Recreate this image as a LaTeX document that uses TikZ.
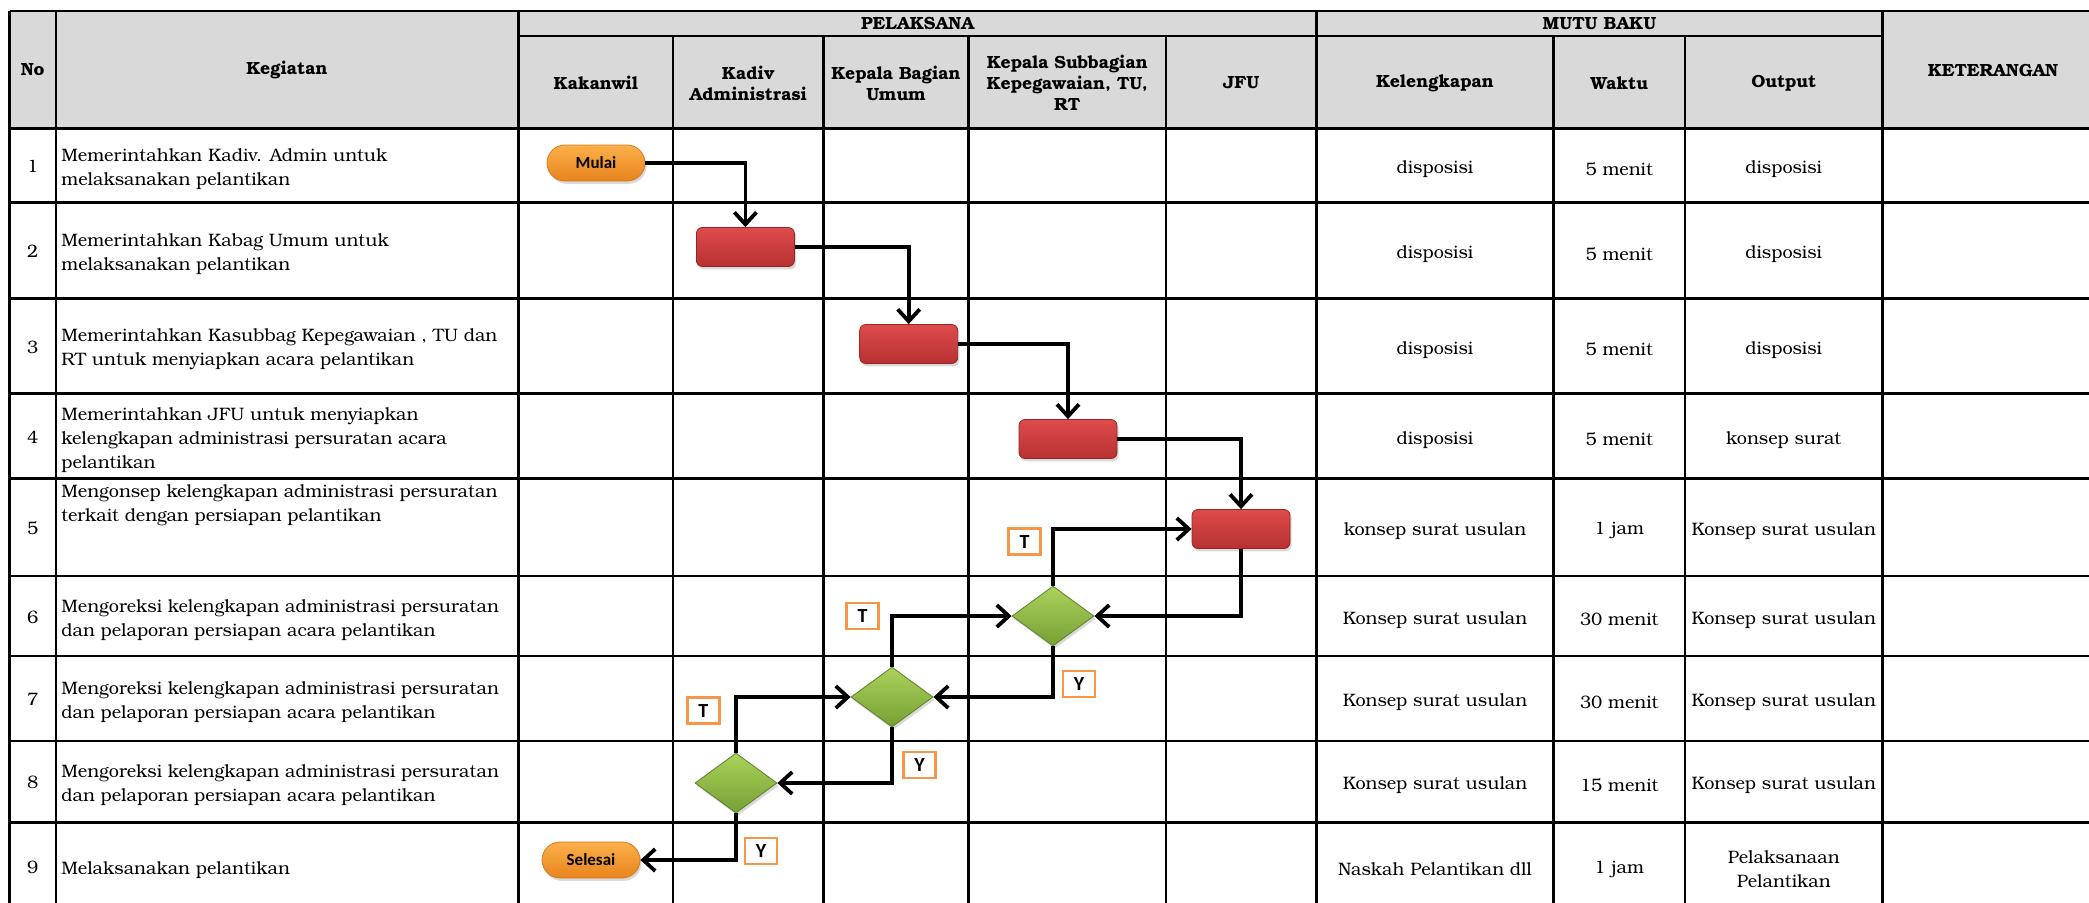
\documentclass[tikz,border=0pt]{standalone}
\usepackage{fontspec}
\setmainfont{TeX Gyre Bonum}
\newfontfamily\calib{Carlito}
\usetikzlibrary{shapes.geometric,arrows.meta,shadows}

\definecolor{hdrgray}{HTML}{D9D9D9}
\definecolor{orgtop}{HTML}{FBB04A}
\definecolor{orgbot}{HTML}{E8841C}
\definecolor{orgline}{HTML}{D47A24}
\definecolor{redtop}{HTML}{DE4B4B}
\definecolor{redbot}{HTML}{B73131}
\definecolor{redline}{HTML}{962626}
\definecolor{grntop}{HTML}{AAD25C}
\definecolor{grnbot}{HTML}{76A034}
\definecolor{tyline}{HTML}{F79646}

\begin{document}
\begin{tikzpicture}[x=0.5pt,y=-0.5pt,
    grid/.style={line width=1.1pt},
    terminal/.style={rounded corners=9pt, draw=orgline, top color=orgtop, bottom color=orgbot,
      minimum width=49pt, minimum height=18pt, inner sep=0pt,
      font=\calib\bfseries\fontsize{8.5}{10}\selectfont,
      drop shadow={opacity=0.3, shadow xshift=0.8pt, shadow yshift=-1.4pt}},
    process/.style={rounded corners=3pt, draw=redline, top color=redtop, bottom color=redbot,
      minimum width=49pt, minimum height=19.5pt, inner sep=0pt,
      drop shadow={opacity=0.3, shadow xshift=0.8pt, shadow yshift=-1.4pt}},
    decision/.style={diamond, draw=grnbot!80!black, top color=grntop, bottom color=grnbot,
      minimum width=41pt, minimum height=30pt, inner sep=0pt,
      drop shadow={opacity=0.3, shadow xshift=0.8pt, shadow yshift=-1.4pt}},
    answer/.style={draw=tyline, line width=1.4pt, fill=white, minimum width=16pt,
      minimum height=13pt, inner sep=0pt, font=\calib\bfseries\fontsize{10}{12}\selectfont},
    flow/.style={line width=1.9pt, -{Straight Barb[length=6pt,width=11pt]}},
    head/.style={font=\bfseries\fontsize{8.8}{10.6}\selectfont, align=center},
    num/.style={font=\fontsize{9}{12}\selectfont, yshift=-0.6pt},
    cell/.style={font=\fontsize{9}{12}\selectfont, align=center, yshift=-1.8pt},
    task/.style={font=\fontsize{9}{12}\selectfont, align=left, anchor=west, inner sep=0pt, yshift=-1.8pt}]

  \useasboundingbox (0,0) rectangle (2089,902);

  % header background
  \fill[hdrgray] (9.5,11) rectangle (2095,128.5);

  % table lines
  \draw[grid] (9.5,11) -- (2095,11);
  \draw[grid] (518.5,36) -- (1882.5,36);
  \draw[grid] (9.5,128.5) -- (2095,128.5);
  \draw[grid] (9.5,202.5) -- (2095,202.5);
  \draw[grid] (9.5,298.5) -- (2095,298.5);
  \draw[grid] (9.5,393.5) -- (2095,393.5);
  \draw[grid] (9.5,478.5) -- (2095,478.5);
  \draw[grid] (9.5,576) -- (2095,576);
  \draw[grid] (9.5,656) -- (2095,656);
  \draw[grid] (9.5,740.7) -- (2095,740.7);
  \draw[grid] (9.5,822.5) -- (2095,822.5);
  \draw[grid] (9.5,11) -- (9.5,910);
  \draw[grid] (56,11) -- (56,910);
  \draw[grid] (518.5,11) -- (518.5,910);
  \draw[grid] (673,36) -- (673,910);
  \draw[grid] (823.5,36) -- (823.5,910);
  \draw[grid] (968.5,36) -- (968.5,910);
  \draw[grid] (1166,36) -- (1166,910);
  \draw[grid] (1316.5,11) -- (1316.5,910);
  \draw[grid] (1553.5,36) -- (1553.5,910);
  \draw[grid] (1685,36) -- (1685,910);
  \draw[grid] (1882.5,11) -- (1882.5,910);

  % header
  \node[head] (hno) at (32.75,70) {No};
  \node[head] (hkeg) at (287,70) {Kegiatan};
  \node[head] (hpel) at (917.5,23.5) {PELAKSANA};
  \node[head] (hmutu) at (1599.5,23.5) {MUTU BAKU};
  \node[head] (hket) at (1993,70) {KETERANGAN};
  \node[head] (hkak) at (595.75,83) {Kakanwil};
  \node[head] (hkadiv) at (748.25,83) {Kadiv\\Administrasi};
  \node[head] (hkabag) at (896,83) {Kepala Bagian\\Umum};
  \node[head] (hkasub) at (1067.25,83) {Kepala Subbagian\\Kepegawaian, TU,\\RT};
  \node[head] (hjfu) at (1241.25,83) {JFU};
  \node[head] (hkel) at (1435,83) {Kelengkapan};
  \node[head] (hwkt) at (1619.25,83) {Waktu};
  \node[head] (hout) at (1783.75,83) {Output};

  % rows
  \node[num] (n1) at (32.75,165.5) {1};
  \node[num] (n2) at (32.75,250.5) {2};
  \node[num] (n3) at (32.75,346) {3};
  \node[num] (n4) at (32.75,436) {4};
  \node[num] (n5) at (32.75,527.25) {5};
  \node[num] (n6) at (32.75,616) {6};
  \node[num] (n7) at (32.75,698.35) {7};
  \node[num] (n8) at (32.75,781.6) {8};
  \node[num] (n9) at (32.75,866) {9};

  \node[task] (k1) at (61,165.5) {Memerintahkan Kadiv. Admin untuk\\melaksanakan pelantikan};
  \node[task] (k2) at (61,250.5) {Memerintahkan Kabag Umum untuk\\melaksanakan pelantikan};
  \node[task] (k3) at (61,346) {Memerintahkan Kasubbag Kepegawaian , TU dan\\RT untuk menyiapkan acara pelantikan};
  \node[task] (k4) at (61,436) {Memerintahkan JFU untuk menyiapkan\\kelengkapan administrasi persuratan acara\\pelantikan};
  \node[task, anchor=north west] (k5) at (61,481) {Mengonsep kelengkapan administrasi persuratan\\terkait dengan persiapan pelantikan};
  \node[task] (k6) at (61,616) {Mengoreksi kelengkapan administrasi persuratan\\dan pelaporan persiapan acara pelantikan};
  \node[task] (k7) at (61,698.35) {Mengoreksi kelengkapan administrasi persuratan\\dan pelaporan persiapan acara pelantikan};
  \node[task] (k8) at (61,781.6) {Mengoreksi kelengkapan administrasi persuratan\\dan pelaporan persiapan acara pelantikan};
  \node[task] (k9) at (61,866) {Melaksanakan pelantikan};

  \node[cell] (kel1) at (1435,165.5) {disposisi};
  \node[cell] (kel2) at (1435,250.5) {disposisi};
  \node[cell] (kel3) at (1435,346) {disposisi};
  \node[cell] (kel4) at (1435,436) {disposisi};
  \node[cell] (kel5) at (1435,527.25) {konsep surat usulan};
  \node[cell] (kel6) at (1435,616) {Konsep surat usulan};
  \node[cell] (kel7) at (1435,698.35) {Konsep surat usulan};
  \node[cell] (kel8) at (1435,781.6) {Konsep surat usulan};
  \node[cell] (kel9) at (1435,866) {Naskah Pelantikan dll};

  \node[cell] (w1) at (1619.25,165.5) {5 menit};
  \node[cell] (w2) at (1619.25,250.5) {5 menit};
  \node[cell] (w3) at (1619.25,346) {5 menit};
  \node[cell] (w4) at (1619.25,436) {5 menit};
  \node[cell] (w5) at (1619.25,527.25) {1 jam};
  \node[cell] (w6) at (1619.25,616) {30 menit};
  \node[cell] (w7) at (1619.25,698.35) {30 menit};
  \node[cell] (w8) at (1619.25,781.6) {15 menit};
  \node[cell] (w9) at (1619.25,866) {1 jam};

  \node[cell] (o1) at (1783.75,165.5) {disposisi};
  \node[cell] (o2) at (1783.75,250.5) {disposisi};
  \node[cell] (o3) at (1783.75,346) {disposisi};
  \node[cell] (o4) at (1783.75,436) {konsep surat};
  \node[cell] (o5) at (1783.75,527.25) {Konsep surat usulan};
  \node[cell] (o6) at (1783.75,616) {Konsep surat usulan};
  \node[cell] (o7) at (1783.75,698.35) {Konsep surat usulan};
  \node[cell] (o8) at (1783.75,781.6) {Konsep surat usulan};
  \node[cell] (o9) at (1783.75,866) {Pelaksanaan\\Pelantikan};

  % flow
  \node[terminal] (mulai) at (596,163) {Mulai};
  \node[process] (p1) at (745.4,247) {};
  \node[process] (p2) at (908.7,344) {};
  \node[process] (p3) at (1068,439) {};
  \node[process] (p4) at (1241,529) {};
  \node[decision] (d1) at (1053,616) {};
  \node[decision] (d2) at (892,697) {};
  \node[decision] (d3) at (736,783) {};
  \node[terminal] (selesai) at (591,860) {Selesai};

  \draw[flow] (mulai) -| (p1);
  \draw[flow] (p1) -| (p2);
  \draw[flow] (p2) -| (p3);
  \draw[flow] (p3) -| (p4);
  \draw[flow] (p4) |- (d1);
  \draw[flow] (d1) |- (p4);
  \draw[flow] (d1) |- (d2);
  \draw[flow] (d2) |- (d1);
  \draw[flow] (d2) |- (d3);
  \draw[flow] (d3) |- (d2);
  \draw[flow] (d3) |- (selesai);

  \node[answer] (t1) at (1024.6,541.5) {T};
  \node[answer] (t2) at (862.5,616) {T};
  \node[answer] (t3) at (703.4,710.7) {T};
  \node[answer] (y1) at (1079,684) {Y};
  \node[answer] (y2) at (919.5,765) {Y};
  \node[answer] (y3) at (761,851) {Y};
\end{tikzpicture}
\end{document}
